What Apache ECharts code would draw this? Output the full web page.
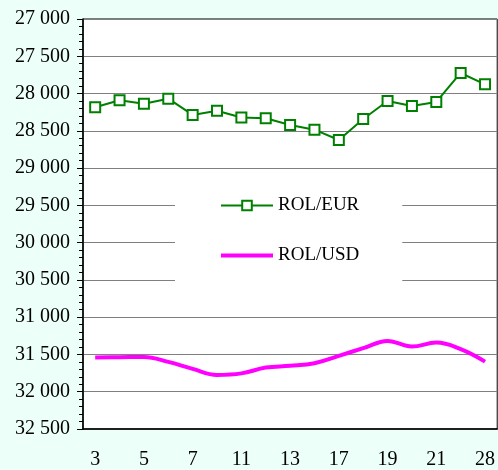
<!DOCTYPE html>
<html>
<head>
<meta charset="utf-8">
<script src="https://cdn.jsdelivr.net/npm/echarts@6/dist/echarts.min.js"></script>
<style>
  html, body { margin: 0; padding: 0; background: #edfff9; }
  #chart { width: 498px; height: 470px; }
</style>
</head>
<body>
<div id="chart"></div>
<script>
// days of the month
var days = ['3', '4', '5', '6', '7', '10', '11', '12', '13', '14', '17', '18', '19', '20', '21', '24', '28'];
var rolEur = [28184, 28090, 28136, 28069, 28287, 28230, 28321, 28332, 28422, 28485, 28623, 28341, 28100, 28167, 28113, 27724, 27876];
var rolUsd = [31540, 31537, 31533, 31600, 31694, 31774, 31754, 31676, 31653, 31617, 31519, 31416, 31318, 31394, 31341, 31429, 31596];

var serif = '"Liberation Serif", "Times New Roman", serif';

var chart = echarts.init(document.getElementById('chart'));
chart.setOption({
  backgroundColor: '#edfff9',
  animation: false,
  grid: {
    left: 83, right: 0, top: 19, bottom: 41,
    show: true, backgroundColor: '#fff', borderColor: '#000', borderWidth: 1
  },
  legend: {
    orient: 'vertical',
    left: 175, top: 182,
    padding: [14, 43, 22, 44],
    itemGap: 31,
    itemWidth: 52, itemHeight: 12,
    backgroundColor: '#fff',
    textStyle: { fontFamily: serif, fontSize: 19, color: '#000' },
    data: [
      { name: 'ROL/EUR', lineStyle: { width: 2 } },
      { name: 'ROL/USD', itemStyle: { opacity: 0 }, lineStyle: { width: 4 } }
    ]
  },
  xAxis: {
    type: 'category',
    data: days,
    boundaryGap: true,
    axisLine: { lineStyle: { color: '#000', width: 1.5 } },
    axisTick: { show: false },
    axisLabel: { interval: 1, margin: 21, fontFamily: serif, fontSize: 20, color: '#000' }
  },
  yAxis: {
    type: 'value',
    inverse: true,
    min: 27000, max: 32500, interval: 500,
    axisLine: { show: true, lineStyle: { color: '#000', width: 1.5 } },
    axisTick: { show: true, length: 6, lineStyle: { color: '#000' } },
    minorTick: { show: true, splitNumber: 5, length: 4, lineStyle: { color: '#000' } },
    splitLine: { lineStyle: { color: '#808080', width: 1 } },
    axisLabel: {
      margin: 13, fontFamily: serif, fontSize: 20, color: '#000',
      formatter: function (v) { return String(v).replace(/\B(?=(\d{3})+(?!\d))/g, ' '); }
    }
  },
  series: [
    {
      name: 'ROL/EUR',
      type: 'line',
      data: rolEur,
      symbol: 'rect',
      symbolSize: 10,
      itemStyle: { color: '#fff', borderColor: '#008000', borderWidth: 2 },
      lineStyle: { color: '#008000', width: 2 }
    },
    {
      name: 'ROL/USD',
      type: 'line',
      data: rolUsd,
      smooth: 0.4,
      showSymbol: false,
      symbol: 'none',
      itemStyle: { color: '#ff00ff' },
      lineStyle: { color: '#ff00ff', width: 4 }
    }
  ]
});
</script>
</body>
</html>
